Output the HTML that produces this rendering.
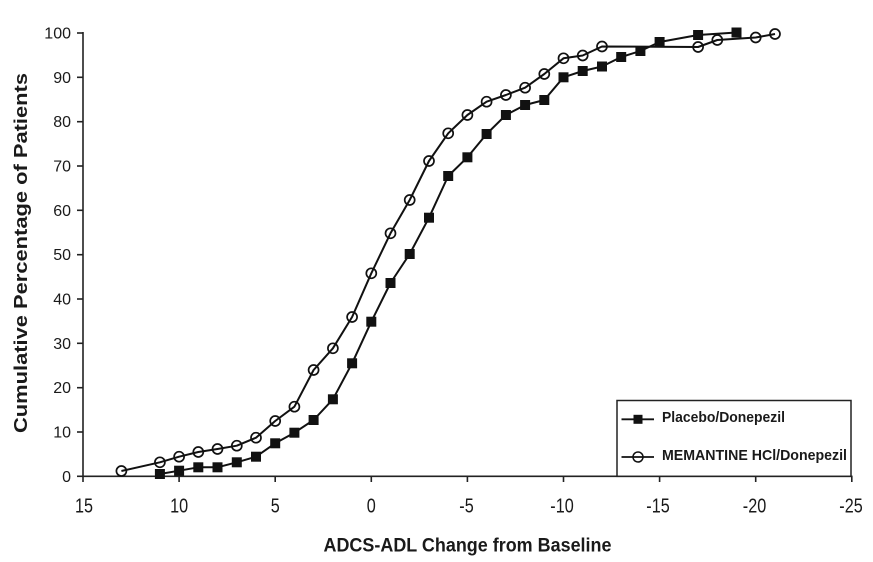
<!DOCTYPE html>
<html><head><meta charset="utf-8"><style>
html,body{margin:0;padding:0;background:#fff;}
svg{display:block;}
text{font-family:"Liberation Sans",Arial,sans-serif;fill:#1a1a1a;}
</style></head><body>
<svg width="873" height="562" viewBox="0 0 873 562" xmlns="http://www.w3.org/2000/svg">
<rect width="873" height="562" fill="#fff"/>
<!-- axes -->
<g stroke="#222" stroke-width="1.6" fill="none">
<line x1="83" y1="32" x2="83" y2="476.3"/>
<line x1="82" y1="476.3" x2="852.5" y2="476.3"/>
<!-- y ticks -->
<line x1="77" y1="33" x2="83" y2="33"/>
<line x1="77" y1="77.3" x2="83" y2="77.3"/>
<line x1="77" y1="121.7" x2="83" y2="121.7"/>
<line x1="77" y1="166" x2="83" y2="166"/>
<line x1="77" y1="210.3" x2="83" y2="210.3"/>
<line x1="77" y1="254.7" x2="83" y2="254.7"/>
<line x1="77" y1="299" x2="83" y2="299"/>
<line x1="77" y1="343.3" x2="83" y2="343.3"/>
<line x1="77" y1="387.7" x2="83" y2="387.7"/>
<line x1="77" y1="432" x2="83" y2="432"/>
<line x1="77" y1="476.3" x2="83" y2="476.3"/>
<!-- x ticks -->
<line x1="83" y1="476" x2="83" y2="482"/>
<line x1="179.1" y1="476" x2="179.1" y2="482"/>
<line x1="275.2" y1="476" x2="275.2" y2="482"/>
<line x1="371.3" y1="476" x2="371.3" y2="482"/>
<line x1="467.4" y1="476" x2="467.4" y2="482"/>
<line x1="563.5" y1="476" x2="563.5" y2="482"/>
<line x1="659.6" y1="476" x2="659.6" y2="482"/>
<line x1="755.7" y1="476" x2="755.7" y2="482"/>
<line x1="851.8" y1="476" x2="851.8" y2="482"/>
</g>
<!-- y labels -->
<g font-size="16" text-anchor="end">
<text x="71" y="38.5">100</text>
<text x="71" y="82.8">90</text>
<text x="71" y="127.2">80</text>
<text x="71" y="171.5">70</text>
<text x="71" y="215.8">60</text>
<text x="71" y="260.2">50</text>
<text x="71" y="304.5">40</text>
<text x="71" y="348.8">30</text>
<text x="71" y="393.2">20</text>
<text x="71" y="437.5">10</text>
<text x="71" y="481.8">0</text>
</g>
<!-- x labels -->
<g font-size="20" text-anchor="middle">
<g transform="translate(84,512.3) scale(0.81,1)"><text x="0" y="0">15</text></g>
<g transform="translate(179.1,512.3) scale(0.81,1)"><text x="0" y="0">10</text></g>
<g transform="translate(275.2,512.3) scale(0.81,1)"><text x="0" y="0">5</text></g>
<g transform="translate(371.3,512.3) scale(0.81,1)"><text x="0" y="0">0</text></g>
<g transform="translate(466.5,512.3) scale(0.81,1)"><text x="0" y="0">-5</text></g>
<g transform="translate(562,512.3) scale(0.81,1)"><text x="0" y="0">-10</text></g>
<g transform="translate(658,512.3) scale(0.81,1)"><text x="0" y="0">-15</text></g>
<g transform="translate(754.5,512.3) scale(0.81,1)"><text x="0" y="0">-20</text></g>
<g transform="translate(851,512.3) scale(0.81,1)"><text x="0" y="0">-25</text></g>
</g>
<!-- axis titles -->
<text x="323.5" y="551.5" font-size="19" font-weight="bold" textLength="288" lengthAdjust="spacingAndGlyphs">ADCS-ADL Change from Baseline</text>
<text transform="translate(27,433) rotate(-90)" x="0" y="0" font-size="18" font-weight="bold" textLength="360" lengthAdjust="spacingAndGlyphs">Cumulative Percentage of Patients</text>

<!-- Memantine series (circles) -->
<polyline fill="none" stroke="#111" stroke-width="2" stroke-linejoin="round" points="121.4,471 159.9,462.3 179.1,456.7 198.3,452 217.5,449 236.8,445.7 256,437.7 275.2,421 294.4,406.7 313.6,370 332.9,348.3 352.1,317 371.3,273.3 390.5,233.3 409.7,200 429,161 448.2,133.3 467.4,115 486.6,101.7 505.9,95 525.1,87.7 544.3,74 563.5,58.3 582.7,55.5 602,46.5 698.1,47 717.3,40 755.7,37.5 775,34"/>
<!-- Placebo series (squares) -->
<polyline fill="none" stroke="#111" stroke-width="2" stroke-linejoin="round" points="159.9,474 179.1,470.7 198.3,467.3 217.5,467.3 236.8,462.3 256,456.7 275.2,443.3 294.4,432.7 313.6,420 332.9,399.3 352.1,363.3 371.3,321.7 390.5,283 409.7,254 429,217.7 448.2,176 467.4,157.3 486.6,134 505.9,115 525.1,105 544.3,100 563.5,77.3 582.7,71 602,66.5 621.2,57 640.4,51 659.6,42 698.1,35 736.5,32.5"/>
<g fill="none" stroke="#111" stroke-width="1.7">
<circle cx="121.4" cy="471" r="5"/>
<circle cx="159.9" cy="462.3" r="5"/>
<circle cx="179.1" cy="456.7" r="5"/>
<circle cx="198.3" cy="452" r="5"/>
<circle cx="217.5" cy="449" r="5"/>
<circle cx="236.8" cy="445.7" r="5"/>
<circle cx="256" cy="437.7" r="5"/>
<circle cx="275.2" cy="421" r="5"/>
<circle cx="294.4" cy="406.7" r="5"/>
<circle cx="313.6" cy="370" r="5"/>
<circle cx="332.9" cy="348.3" r="5"/>
<circle cx="352.1" cy="317" r="5"/>
<circle cx="371.3" cy="273.3" r="5"/>
<circle cx="390.5" cy="233.3" r="5"/>
<circle cx="409.7" cy="200" r="5"/>
<circle cx="429" cy="161" r="5"/>
<circle cx="448.2" cy="133.3" r="5"/>
<circle cx="467.4" cy="115" r="5"/>
<circle cx="486.6" cy="101.7" r="5"/>
<circle cx="505.9" cy="95" r="5"/>
<circle cx="525.1" cy="87.7" r="5"/>
<circle cx="544.3" cy="74" r="5"/>
<circle cx="563.5" cy="58.3" r="5"/>
<circle cx="582.7" cy="55.5" r="5"/>
<circle cx="602" cy="46.5" r="5"/>
<circle cx="698.1" cy="47" r="5"/>
<circle cx="717.3" cy="40" r="5"/>
<circle cx="755.7" cy="37.5" r="5"/>
<circle cx="775" cy="34" r="5"/>
</g>
<g fill="#111">
<rect x="154.9" y="469" width="10" height="10"/>
<rect x="174.1" y="465.7" width="10" height="10"/>
<rect x="193.3" y="462.3" width="10" height="10"/>
<rect x="212.5" y="462.3" width="10" height="10"/>
<rect x="231.8" y="457.3" width="10" height="10"/>
<rect x="251" y="451.7" width="10" height="10"/>
<rect x="270.2" y="438.3" width="10" height="10"/>
<rect x="289.4" y="427.7" width="10" height="10"/>
<rect x="308.6" y="415" width="10" height="10"/>
<rect x="327.9" y="394.3" width="10" height="10"/>
<rect x="347.1" y="358.3" width="10" height="10"/>
<rect x="366.3" y="316.7" width="10" height="10"/>
<rect x="385.5" y="278" width="10" height="10"/>
<rect x="404.7" y="249" width="10" height="10"/>
<rect x="424" y="212.7" width="10" height="10"/>
<rect x="443.2" y="171" width="10" height="10"/>
<rect x="462.4" y="152.3" width="10" height="10"/>
<rect x="481.6" y="129" width="10" height="10"/>
<rect x="500.9" y="110" width="10" height="10"/>
<rect x="520.1" y="100" width="10" height="10"/>
<rect x="539.3" y="95" width="10" height="10"/>
<rect x="558.5" y="72.3" width="10" height="10"/>
<rect x="577.7" y="66" width="10" height="10"/>
<rect x="597" y="61.5" width="10" height="10"/>
<rect x="616.2" y="52" width="10" height="10"/>
<rect x="635.4" y="46" width="10" height="10"/>
<rect x="654.6" y="37" width="10" height="10"/>
<rect x="693.1" y="30" width="10" height="10"/>
<rect x="731.5" y="27.5" width="10" height="10"/>
</g>

<!-- legend -->
<rect x="617" y="400.5" width="234" height="75.8" fill="#fff" stroke="#222" stroke-width="1.5"/>
<line x1="621.5" y1="419.3" x2="654" y2="419.3" stroke="#111" stroke-width="1.8"/>
<rect x="633.5" y="414.8" width="9" height="9" fill="#111"/>
<line x1="621.5" y1="457" x2="654" y2="457" stroke="#111" stroke-width="1.8"/>
<circle cx="638" cy="457" r="5" fill="none" stroke="#111" stroke-width="1.5"/>
<text x="662" y="421.8" font-size="15" font-weight="bold" textLength="123" lengthAdjust="spacingAndGlyphs">Placebo/Donepezil</text>
<text x="662" y="460" font-size="15" font-weight="bold" textLength="185" lengthAdjust="spacingAndGlyphs">MEMANTINE HCl/Donepezil</text>
</svg>
</body></html>
